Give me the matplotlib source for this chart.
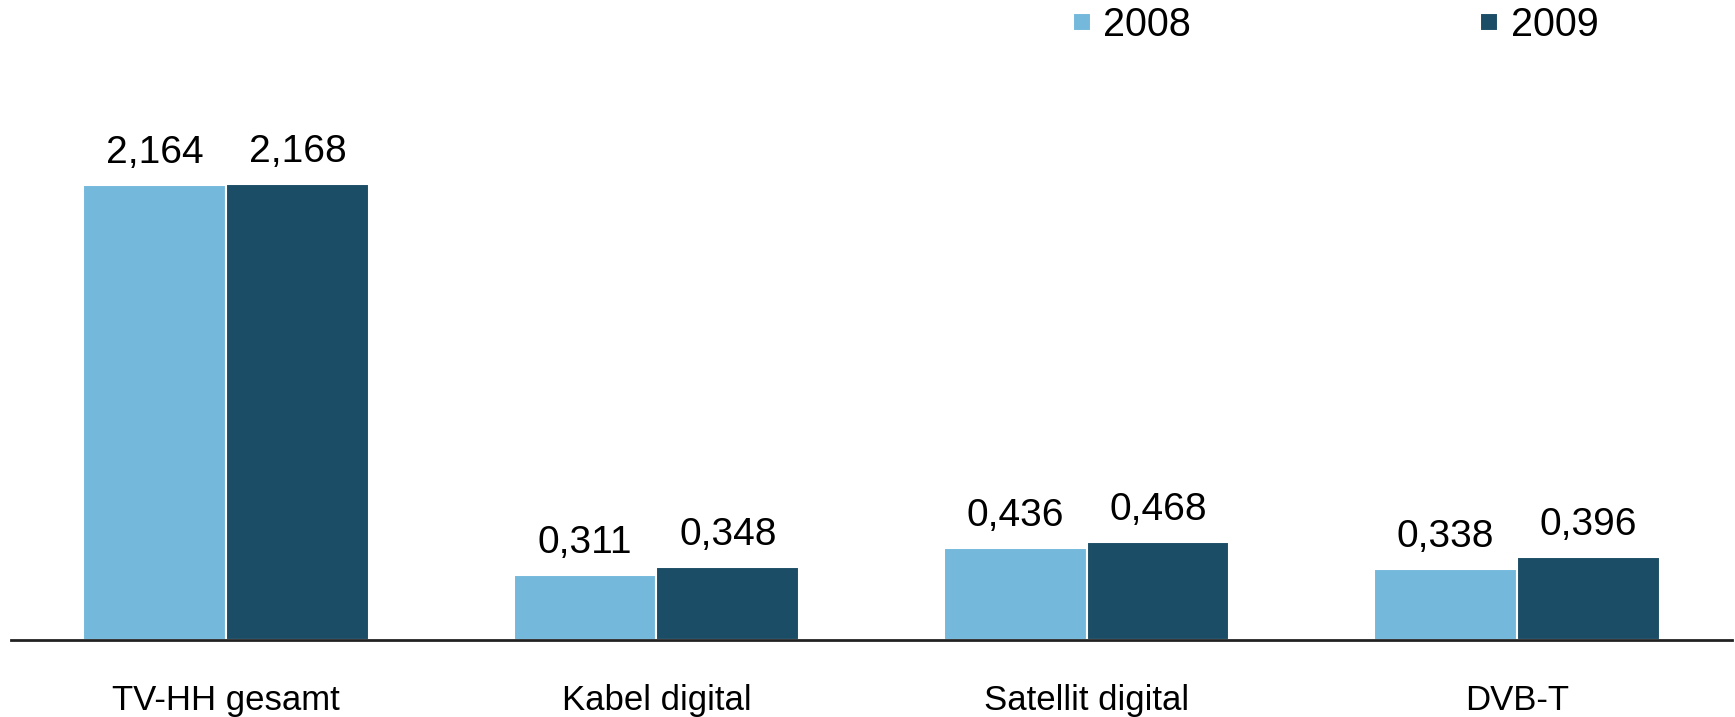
import numpy as np
import matplotlib
matplotlib.use('Agg')
import matplotlib.pyplot as plt

# Daten
categories = ['TV-HH gesamt', 'Kabel digital', 'Satellit digital', 'DVB-T']
years = ['2008', '2009']
values_2008 = [2.164, 0.311, 0.436, 0.338]
values_2009 = [2.168, 0.348, 0.468, 0.396]
labels_2008 = ['2,164', '0,311', '0,436', '0,338']
labels_2009 = ['2,168', '0,348', '0,468', '0,396']
colors = ['#74B8DC', '#1B4D66']

plt.rcParams['font.family'] = ['Liberation Sans', 'DejaVu Sans']

fig = plt.figure(figsize=(17.35, 7.17), dpi=100)
ax = fig.add_axes([11 / 1735, 77 / 717, 1721 / 1735, 560 / 717])

x = np.arange(len(categories))
w = 0.332
b1 = ax.bar(x - w / 2, values_2008, w, color=colors[0], edgecolor='white',
            linewidth=1.5, label=years[0])
b2 = ax.bar(x + w / 2, values_2009, w, color=colors[1], edgecolor='white',
            linewidth=1.5, label=years[1])
ax.bar_label(b1, labels=labels_2008, padding=10, fontsize=28)
ax.bar_label(b2, labels=labels_2009, padding=10, fontsize=28)

ax.set_xlim(-0.5, 3.5)
ax.set_ylim(0, 2.663)
ax.set_xticks(x)
ax.set_xticklabels(categories, fontsize=25)
ax.tick_params(axis='x', length=0, pad=32)
ax.set_yticks([])
for s in ['top', 'right', 'left']:
    ax.spines[s].set_visible(False)
ax.spines['bottom'].set_linewidth(2)
ax.spines['bottom'].set_color('#222222')

# quadratische Legendensymbole
fig.legend(loc='center left', bbox_to_anchor=(1073 / 1735, 1 - 25 / 717),
           ncol=2, frameon=False, fontsize=28.5, handlelength=0.45,
           handleheight=0.32, handletextpad=0.32, columnspacing=7.3,
           borderpad=0, borderaxespad=0)

fig.savefig('out.png', dpi=100)
